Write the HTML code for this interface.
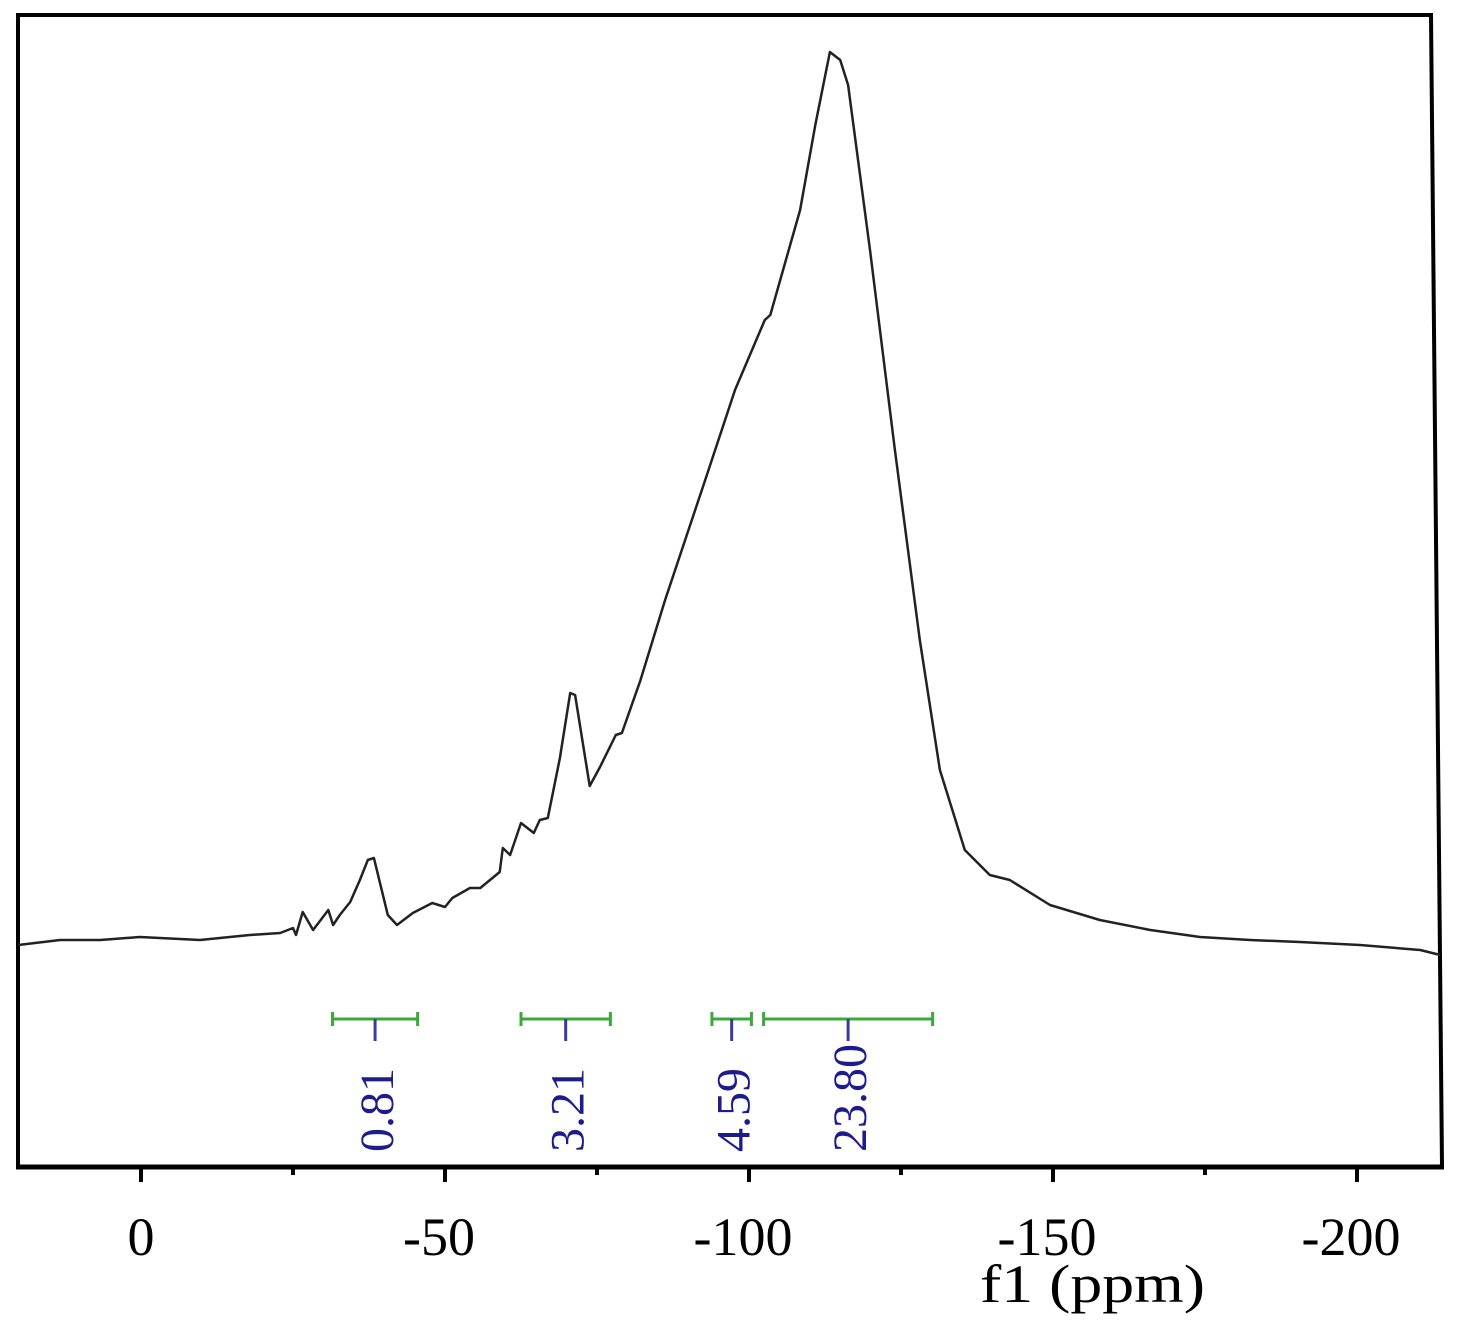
<!DOCTYPE html>
<html><head><meta charset="utf-8"><style>
body{margin:0;background:#fff;}
svg{display:block;font-family:"Liberation Serif",serif;}
</style></head><body>
<svg id="chart" width="1462" height="1337" viewBox="0 0 1462 1337">
<g id="frame">
<polyline points="18,1167 18,15 1431,15 1442,1167" fill="none" stroke="#000" stroke-width="4"/>
<line x1="16" y1="1167" x2="1444" y2="1167" stroke="#000" stroke-width="5"/>
</g>
<g id="ticks"></g>
<g id="trace"></g>
<g id="integrals"></g>
<text x="980" y="1302" font-size="54" textLength="225" lengthAdjust="spacingAndGlyphs">f1 (ppm)</text>
</svg>
<script>
const ppm = [20.2,13.3,6.7,0.2,-9.7,-17.9,-22.9,-25.0,-25.5,-26.6,-28.3,-30.8,-31.6,-32.7,-34.4,-36.0,-37.3,-38.3,-40.6,-42.1,-44.7,-47.9,-50.0,-51.2,-54.1,-55.8,-59.0,-59.5,-60.7,-62.5,-64.6,-65.6,-66.9,-68.9,-70.6,-71.4,-73.8,-75.5,-78.1,-79.1,-82.1,-86.2,-92.8,-97.7,-102.6,-103.5,-108.4,-110.9,-113.3,-115.0,-116.3,-119.9,-124.0,-128.1,-131.4,-135.5,-139.6,-142.9,-149.5,-157.7,-166.0,-174.2,-182.4,-190.6,-200.5,-210.4,-213.7];
const intensity = [0,5,5,8,5,10,12,17,10,33,15,35,20,30,43,65,85,87,30,20,32,42,38,47,57,57,73,97,90,122,112,125,127,187,252,250,159,178,210,212,264,345,465,555,625,630,735,820,893,885,860,695,495,305,175,95,70,65,40,25,15,8,5,3,0,-5,-10];
const tickValues = [0,-50,-100,-150,-200];
const tickLabels = ["0","-50","-100","-150","-200"];
const minorTicks = [-25,-75,-125,-175];
const intStart = [-31.5,-62.5,-93.9,-102.4];
const intEnd = [-45.5,-77.2,-100.4,-130.2];
const intValues = ["0.81","3.21","4.59","23.80"];

const NS="http://www.w3.org/2000/svg";
const xs = p => 141 + (-p)*6.08;
const ys = v => 945 - v;

const trace=document.getElementById('trace');
const pl=document.createElementNS(NS,'polyline');


pl.setAttribute('points',ppm.map((p,i)=>xs(p).toFixed(1)+','+ys(intensity[i]).toFixed(1)).join(' '));
pl.setAttribute('fill','none');pl.setAttribute('stroke','#222');pl.setAttribute('stroke-width','2.5');pl.setAttribute('stroke-linejoin','round');
trace.appendChild(pl);

const tk=document.getElementById('ticks');
tickValues.forEach((v,i)=>{
  const l=document.createElementNS(NS,'line');
  
  
  l.setAttribute('x1',xs(v));l.setAttribute('x2',xs(v));l.setAttribute('y1',1167);l.setAttribute('y2',1182);
  l.setAttribute('stroke','#000');l.setAttribute('stroke-width','4');tk.appendChild(l);
  const t=document.createElementNS(NS,'text');
  
  
  t.setAttribute('x',xs(v)-(v===0?0:6));t.setAttribute('y',1255);t.setAttribute('font-size','54');t.setAttribute('text-anchor','middle');
  t.textContent=tickLabels[i];tk.appendChild(t);
});
minorTicks.forEach(v=>{
  const l=document.createElementNS(NS,'line');
  
  
  l.setAttribute('x1',xs(v));l.setAttribute('x2',xs(v));l.setAttribute('y1',1167);l.setAttribute('y2',1175);
  l.setAttribute('stroke','#000');l.setAttribute('stroke-width','4');tk.appendChild(l);
});

const ig=document.getElementById('integrals');
intValues.forEach((val,i)=>{
  const a=xs(intStart[i]), b=xs(intEnd[i]), c=(a+b)/2;
  const g=document.createElementNS(NS,'g');
  
  
  g.innerHTML='<line x1="'+a+'" x2="'+b+'" y1="1019" y2="1019" stroke="#3aa83a" stroke-width="3"/>'+
    '<line x1="'+a+'" x2="'+a+'" y1="1012" y2="1026" stroke="#3aa83a" stroke-width="3"/>'+
    '<line x1="'+b+'" x2="'+b+'" y1="1012" y2="1026" stroke="#3aa83a" stroke-width="3"/>'+
    '<line x1="'+c+'" x2="'+c+'" y1="1019" y2="1041" stroke="#3a3aa0" stroke-width="3"/>'+
    '<text transform="translate('+(c+18)+',1152) rotate(-90)" font-size="48" fill="#1c1c8c">'+val+'</text>';
  ig.appendChild(g);
});
</script>
</body></html>
